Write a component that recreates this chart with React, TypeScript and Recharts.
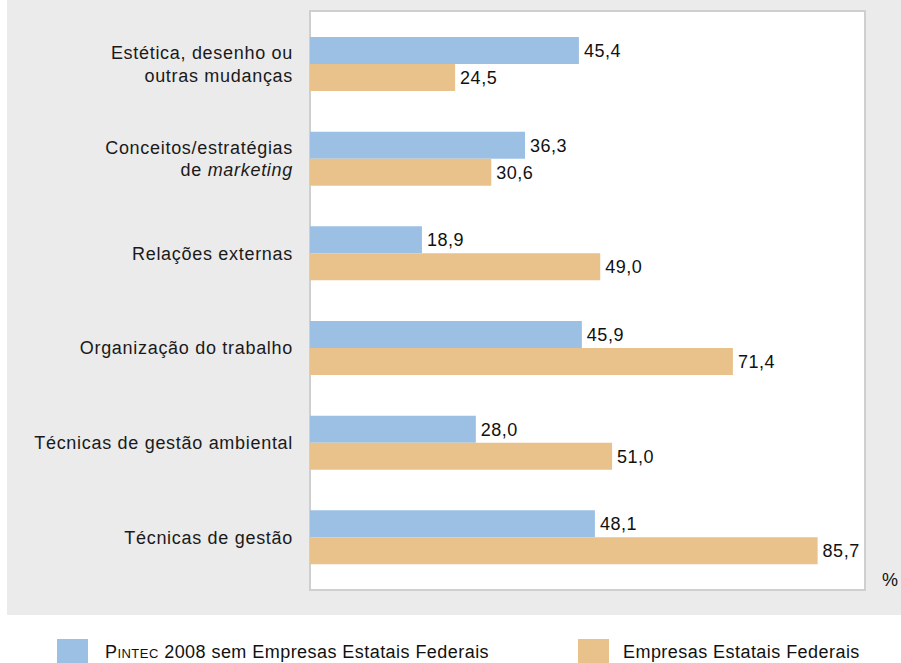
import React from 'react';
import { BarChart, Bar, XAxis, YAxis, LabelList } from 'recharts';

// categorias (linhas separadas por \n)
const categorias = [
  'Estética, desenho ou\noutras mudanças',
  'Conceitos/estratégias\nde marketing',
  'Relações externas',
  'Organização do trabalho',
  'Técnicas de gestão ambiental',
  'Técnicas de gestão',
];
const pintec = [45.4, 36.3, 18.9, 45.9, 28.0, 48.1];
const estatais = [24.5, 30.6, 49.0, 71.4, 51.0, 85.7];
const serieNomes = ['Pintec 2008 sem Empresas Estatais Federais', 'Empresas Estatais Federais'];

const AZUL = '#9cc0e4';
const LARANJA = '#e8c28a';
const FONTE = '"Liberation Sans", Arial, sans-serif';
const LS = 0.7;

const data = categorias.map((c, i) => ({ categoria: c, pintec: pintec[i], estatais: estatais[i] }));

const fmt = (v: any) => Number(v).toFixed(1).replace('.', ',');

const CategoryTick = ({ x, y, payload }: any) => {
  const linhas = String(payload.value).split('\n');
  const lh = 22.5;
  const y0 = y - ((linhas.length - 1) * lh) / 2;
  const tx = x - 2;
  return (
    <text x={tx} y={y0} textAnchor="end" dominantBaseline="central" fontFamily={FONTE} fontSize={18} letterSpacing={LS} fill="#1a1a1a">
      {linhas.map((l, i) => {
        const k = l.indexOf('marketing');
        return (
          <tspan key={i} x={tx} y={y0 + i * lh}>
            {k >= 0 ? (
              <>
                {l.slice(0, k)}
                <tspan fontStyle="italic">marketing</tspan>
              </>
            ) : l}
          </tspan>
        );
      })}
    </text>
  );
};

// "Pintec" em versalete
const nomeSerie = (nome: string) => {
  if (!nome.startsWith('Pintec')) return nome;
  return (
    <>
      P<span style={{ fontVariant: 'small-caps' }}>intec</span>
      {nome.slice(6)}
    </>
  );
};

export default function App() {
  const legenda = { position: 'absolute' as const, top: 642, fontSize: 18, letterSpacing: 0.45, color: '#111', whiteSpace: 'nowrap' as const };
  return (
    <div style={{ position: 'absolute', left: 0, top: 0, width: 901, height: 663, background: '#fff', fontFamily: FONTE, overflow: 'hidden' }}>
      <div style={{ position: 'absolute', left: 7, top: 0, width: 894, height: 615, background: '#ebebeb' }} />
      <div style={{ position: 'absolute', left: 309, top: 10, width: 557, height: 581, background: '#fff', border: '2px solid #cfcfcf', boxSizing: 'border-box' }} />
      <div style={{ position: 'absolute', left: 0, top: 0 }}>
        <BarChart
          width={901}
          height={615}
          data={data}
          layout="vertical"
          margin={{ top: 17, right: 36, bottom: 30, left: 0 }}
          barSize={27}
          barGap={0}
        >
          <XAxis type="number" domain={[0, 93.7]} hide />
          <YAxis
            type="category"
            dataKey="categoria"
            width={310}
            axisLine={false}
            tickLine={false}
            tickMargin={9}
            interval={0}
            tick={<CategoryTick />}
          />
          <Bar dataKey="pintec" fill={AZUL} isAnimationActive={false}>
            <LabelList dataKey="pintec" position="right" offset={5} formatter={fmt} fill="#111" fontSize={18} letterSpacing={0.5} fontFamily={FONTE} />
          </Bar>
          <Bar dataKey="estatais" fill={LARANJA} isAnimationActive={false}>
            <LabelList dataKey="estatais" position="right" offset={5} formatter={fmt} fill="#111" fontSize={18} letterSpacing={0.5} fontFamily={FONTE} />
          </Bar>
        </BarChart>
      </div>
      <div style={{ position: 'absolute', left: 882, top: 570, fontSize: 18, color: '#111' }}>%</div>
      <div style={{ position: 'absolute', left: 57, top: 639, width: 31, height: 24, background: AZUL }} />
      <div style={{ ...legenda, left: 105 }}>{nomeSerie(serieNomes[0])}</div>
      <div style={{ position: 'absolute', left: 578, top: 639, width: 31, height: 24, background: LARANJA }} />
      <div style={{ ...legenda, left: 623 }}>{nomeSerie(serieNomes[1])}</div>
    </div>
  );
}
